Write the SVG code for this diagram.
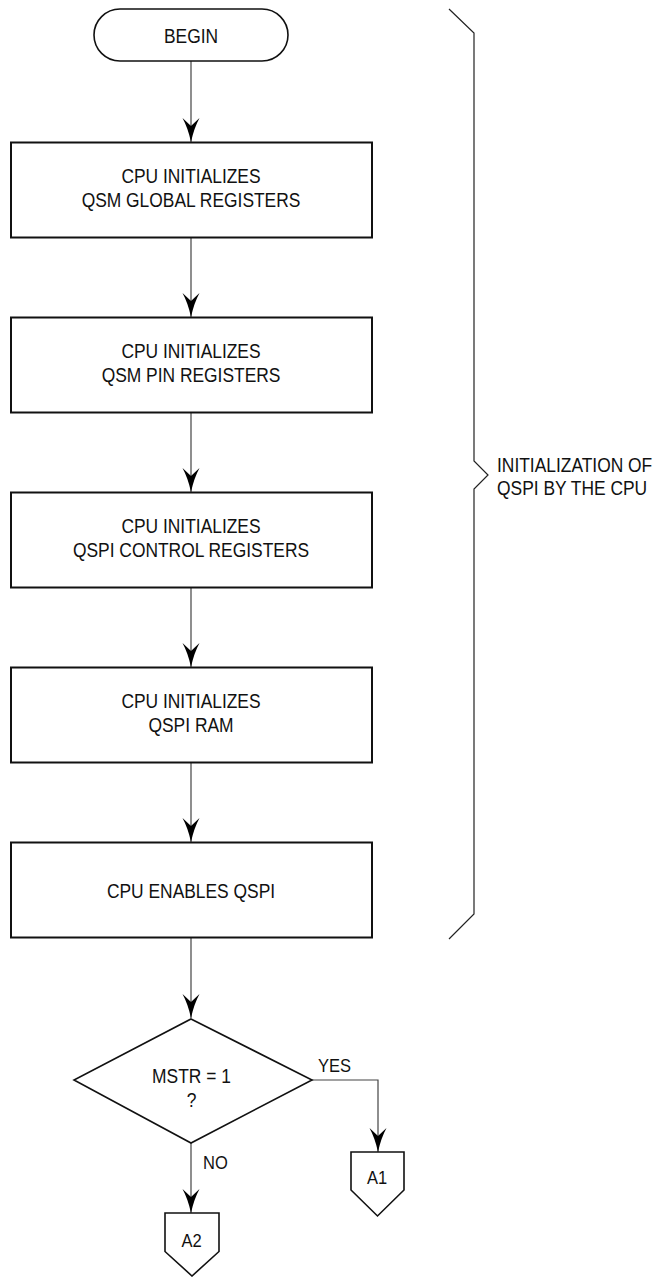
<svg xmlns="http://www.w3.org/2000/svg" width="655" height="1277" viewBox="0 0 655 1277">
<style>
.box{fill:#fff;stroke:#111;stroke-width:2}
.shape{fill:#fff;stroke:#111;stroke-width:1.6}
.t{font-family:"Liberation Sans",Arial,sans-serif;font-size:20px;fill:#111;text-anchor:middle}
.s{font-family:"Liberation Sans",Arial,sans-serif;font-size:19px;fill:#111}
.ln{fill:none;stroke:#444;stroke-width:1.2}
.br{fill:none;stroke:#222;stroke-width:1.2}
</style>
<defs>
<marker id="ah" markerUnits="userSpaceOnUse" markerWidth="26" markerHeight="20" viewBox="0 -10 26 20" refX="24" refY="0" orient="auto">
<path d="M24,0 Q10,-3 0,-8.5 L8,0 L0,8.5 Q10,3 24,0 Z" fill="#000"/>
</marker>
</defs>
<rect width="655" height="1277" fill="#fff"/>
<g id="connectors">
<line class="ln" x1="191" y1="61" x2="191" y2="142" marker-end="url(#ah)"/>
<line class="ln" x1="191" y1="238" x2="191" y2="317" marker-end="url(#ah)"/>
<line class="ln" x1="191" y1="413" x2="191" y2="492" marker-end="url(#ah)"/>
<line class="ln" x1="191" y1="588" x2="191" y2="667" marker-end="url(#ah)"/>
<line class="ln" x1="191" y1="763" x2="191" y2="842" marker-end="url(#ah)"/>
<line class="ln" x1="191" y1="938" x2="191" y2="1018" marker-end="url(#ah)"/>
<polyline class="ln" points="312,1080 378,1080 378,1152" marker-end="url(#ah)"/>
<line class="ln" x1="191" y1="1143" x2="191" y2="1213" marker-end="url(#ah)"/>
<text class="s" x="318" y="1072" transform="matrix(0.87 0 0 1 41.3 0)">YES</text>
<text class="s" x="203" y="1169" transform="matrix(0.87 0 0 1 26.4 0)">NO</text>
</g>
<g id="begin">
<rect class="shape" x="94" y="9" width="194" height="52" rx="26" ry="26"/>
<text class="t" x="0" y="43" transform="matrix(0.87 0 0 1 191 0)">BEGIN</text>
</g>
<g id="box1">
<rect class="box" x="11" y="142.5" width="361" height="95"/>
<text class="t" x="0" y="183.3" transform="matrix(0.87 0 0 1 191 0)">CPU INITIALIZES</text>
<text class="t" x="0" y="207.3" transform="matrix(0.87 0 0 1 191 0)">QSM GLOBAL REGISTERS</text>
</g>
<g id="box2">
<rect class="box" x="11" y="317.5" width="361" height="95"/>
<text class="t" x="0" y="358.3" transform="matrix(0.87 0 0 1 191 0)">CPU INITIALIZES</text>
<text class="t" x="0" y="382.3" transform="matrix(0.87 0 0 1 191 0)">QSM PIN REGISTERS</text>
</g>
<g id="box3">
<rect class="box" x="11" y="492.5" width="361" height="95"/>
<text class="t" x="0" y="533.3" transform="matrix(0.87 0 0 1 191 0)">CPU INITIALIZES</text>
<text class="t" x="0" y="557.3" transform="matrix(0.87 0 0 1 191 0)">QSPI CONTROL REGISTERS</text>
</g>
<g id="box4">
<rect class="box" x="11" y="667.5" width="361" height="95"/>
<text class="t" x="0" y="708.3" transform="matrix(0.87 0 0 1 191 0)">CPU INITIALIZES</text>
<text class="t" x="0" y="732.3" transform="matrix(0.87 0 0 1 191 0)">QSPI RAM</text>
</g>
<g id="box5">
<rect class="box" x="11" y="842.5" width="361" height="95"/>
<text class="t" x="0" y="898.3" transform="matrix(0.87 0 0 1 191 0)">CPU ENABLES QSPI</text>
</g>
<g id="brace">
<polyline class="br" points="449,9 474,33 474,461 488,475 474,489 474,914 449,939"/>
<text class="t" x="0" y="472" style="text-anchor:start" transform="matrix(0.87 0 0 1 497 0)">INITIALIZATION OF</text>
<text class="t" x="0" y="495.5" style="text-anchor:start" transform="matrix(0.87 0 0 1 497 0)">QSPI BY THE CPU</text>
</g>
<g id="decision">
<polygon class="shape" points="191,1019 312,1080 191,1143 74,1080"/>
<text class="t" x="0" y="1083.3" transform="matrix(0.87 0 0 1 191.5 0)">MSTR = 1</text>
<text class="t" x="0" y="1106.7" transform="matrix(0.87 0 0 1 191.5 0)">?</text>
</g>
<g id="a1">
<polygon class="shape" points="351,1152 404,1152 404,1190 377.5,1216 351,1190"/>
<text class="t" x="0" y="1184.3" style="font-size:19px" transform="matrix(0.87 0 0 1 377 0)">A1</text>
</g>
<g id="a2">
<polygon class="shape" points="165,1213 219,1213 219,1251.5 192,1276 165,1251.5"/>
<text class="t" x="0" y="1246.7" style="font-size:19px" transform="matrix(0.87 0 0 1 191.5 0)">A2</text>
</g>
</svg>
